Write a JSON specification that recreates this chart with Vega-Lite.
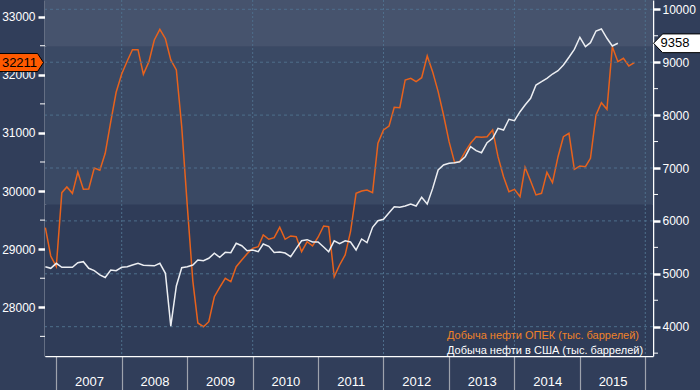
{
"$schema": "https://vega.github.io/schema/vega-lite/v6.json",
"width": 608, "height": 356,
"autosize": {"type": "none"},
"padding": {"left": 45, "top": 0, "right": 47, "bottom": 34},
"background": "#313e5a",
"config": {"view": {"stroke": null}, "font": "Liberation Sans"},
"datasets": {"oil": [
{"d":"2006-11","opec":29370,"us":5134},{"d":"2006-12","opec":28883,"us":5104},
{"d":"2007-01","opec":28699,"us":5198},{"d":"2007-02","opec":29972,"us":5123},{"d":"2007-03","opec":30070,"us":5123},{"d":"2007-04","opec":29961,"us":5123},{"d":"2007-05","opec":30328,"us":5210},{"d":"2007-06","opec":30030,"us":5229},{"d":"2007-07","opec":30035,"us":5104},{"d":"2007-08","opec":30397,"us":5059},{"d":"2007-09","opec":30357,"us":4979},{"d":"2007-10","opec":30650,"us":4930},{"d":"2007-11","opec":31193,"us":5072},{"d":"2007-12","opec":31699,"us":5059},
{"d":"2008-01","opec":32014,"us":5123},{"d":"2008-02","opec":32238,"us":5134},{"d":"2008-03","opec":32432,"us":5166},{"d":"2008-04","opec":32432,"us":5198},{"d":"2008-05","opec":32009,"us":5161},{"d":"2008-06","opec":32226,"us":5157},{"d":"2008-07","opec":32599,"us":5150},{"d":"2008-08","opec":32783,"us":5198},{"d":"2008-09","opec":32621,"us":5009},{"d":"2008-10","opec":32255,"us":4010},{"d":"2008-11","opec":32083,"us":4769},{"d":"2008-12","opec":31107,"us":5115},
{"d":"2009-01","opec":29750,"us":5134},{"d":"2009-02","opec":28450,"us":5166},{"d":"2009-03","opec":27730,"us":5261},{"d":"2009-04","opec":27666,"us":5248},{"d":"2009-05","opec":27752,"us":5293},{"d":"2009-06","opec":28182,"us":5388},{"d":"2009-07","opec":28344,"us":5312},{"d":"2009-08","opec":28499,"us":5406},{"d":"2009-09","opec":28440,"us":5399},{"d":"2009-10","opec":28699,"us":5577},{"d":"2009-11","opec":28814,"us":5531},{"d":"2009-12","opec":28920,"us":5437},
{"d":"2010-01","opec":29015,"us":5450},{"d":"2010-02","opec":29043,"us":5418},{"d":"2010-03","opec":29244,"us":5563},{"d":"2010-04","opec":29170,"us":5520},{"d":"2010-05","opec":29198,"us":5403},{"d":"2010-06","opec":29376,"us":5412},{"d":"2010-07","opec":29170,"us":5393},{"d":"2010-08","opec":29227,"us":5323},{"d":"2010-09","opec":29215,"us":5482},{"d":"2010-10","opec":28957,"us":5624},{"d":"2010-11","opec":29129,"us":5645},{"d":"2010-12","opec":29055,"us":5601},
{"d":"2011-01","opec":29205,"us":5600},{"d":"2011-02","opec":29399,"us":5506},{"d":"2011-03","opec":29387,"us":5418},{"d":"2011-04","opec":28527,"us":5624},{"d":"2011-05","opec":28728,"us":5569},{"d":"2011-06","opec":28900,"us":5624},{"d":"2011-07","opec":29300,"us":5601},{"d":"2011-08","opec":29961,"us":5450},{"d":"2011-09","opec":30001,"us":5658},{"d":"2011-10","opec":30018,"us":5588},{"d":"2011-11","opec":29972,"us":5879},{"d":"2011-12","opec":30822,"us":6004},
{"d":"2012-01","opec":31051,"us":6030},{"d":"2012-02","opec":31119,"us":6155},{"d":"2012-03","opec":31441,"us":6268},{"d":"2012-04","opec":31434,"us":6257},{"d":"2012-05","opec":31911,"us":6282},{"d":"2012-06","opec":31940,"us":6319},{"d":"2012-07","opec":31882,"us":6282},{"d":"2012-08","opec":31950,"us":6446},{"d":"2012-09","opec":32324,"us":6319},{"d":"2012-10","opec":32054,"us":6610},{"d":"2012-11","opec":31710,"us":6962},{"d":"2012-12","opec":31309,"us":7057},
{"d":"2013-01","opec":30850,"us":7089},{"d":"2013-02","opec":30488,"us":7100},{"d":"2013-03","opec":30505,"us":7119},{"d":"2013-04","opec":30680,"us":7214},{"d":"2013-05","opec":30822,"us":7403},{"d":"2013-06","opec":30935,"us":7327},{"d":"2013-07","opec":30925,"us":7289},{"d":"2013-08","opec":30935,"us":7478},{"d":"2013-09","opec":31051,"us":7561},{"d":"2013-10","opec":30591,"us":7750},{"d":"2013-11","opec":30247,"us":7718},{"d":"2013-12","opec":29989,"us":7921},
{"d":"2014-01","opec":30030,"us":7894},{"d":"2014-02","opec":29903,"us":8064},{"d":"2014-03","opec":30409,"us":8191},{"d":"2014-04","opec":30173,"us":8318},{"d":"2014-05","opec":29933,"us":8569},{"d":"2014-06","opec":29961,"us":8631},{"d":"2014-07","opec":30323,"us":8696},{"d":"2014-08","opec":30144,"us":8777},{"d":"2014-09","opec":30591,"us":8839},{"d":"2014-10","opec":30935,"us":8947},{"d":"2014-11","opec":30994,"us":9093},{"d":"2014-12","opec":30374,"us":9244},
{"d":"2015-01","opec":30431,"us":9471},{"d":"2015-02","opec":30419,"us":9293},{"d":"2015-03","opec":30564,"us":9369},{"d":"2015-04","opec":31309,"us":9590},{"d":"2015-05","opec":31520,"us":9628},{"d":"2015-06","opec":31407,"us":9452},{"d":"2015-07","opec":32484,"us":9306},{"d":"2015-08","opec":32226,"us":9358},{"d":"2015-09","opec":32284,"us":null},{"d":"2015-10","opec":32152,"us":null},{"d":"2015-11","opec":32211,"us":null}
],
"bands": [{"band": "top"}],
"grid_x": [{"d":"2008-01"},{"d":"2010-01"},{"d":"2012-01"},{"d":"2014-01"},{"d":"2016-01"}],
"grid_y": [{"us":4000},{"us":5000},{"us":6000},{"us":7000},{"us":8000},{"us":9000},{"us":10000}],
"minor_l": [{"opec":27500},{"opec":28500},{"opec":29500},{"opec":30500},{"opec":31500},{"opec":32500}],
"minor_r": [{"us":3500},{"us":4500},{"us":5500},{"us":6500},{"us":7500},{"us":8500},{"us":9500}]
},
"resolve": {"scale": {"y": "independent"}},
"layer": [
{
 "layer": [
  {"data": {"name": "bands"}, "mark": {"type": "rect", "fill": "#46536d"},
   "encoding": {"y": {"datum": 33287, "type": "quantitative"}, "y2": {"datum": 32483}}},
  {"data": {"name": "bands"}, "mark": {"type": "rect", "fill": "#3a4964"},
   "encoding": {"y": {"datum": 32483, "type": "quantitative"}, "y2": {"datum": 29765}}},
  {"data": {"name": "bands"}, "mark": {"type": "rect", "fill": "#2f3c58"},
   "encoding": {"y": {"datum": 29765, "type": "quantitative"}, "y2": {"datum": 27162}}},
  {"data": {"name": "grid_x"},
   "mark": {"type": "rule", "stroke": "#4e6f8c", "strokeWidth": 1, "strokeDash": [2, 2]},
   "encoding": {"x": {"field": "d", "type": "temporal"}}},
  {"data": {"name": "oil"}, "mark": {"type": "line", "strokeWidth": 1.5},
   "encoding": {
    "x": {"field": "d", "type": "temporal", "title": null,
      "scale": {"domain": [{"year": 2006, "month": 10, "date": 30}, {"year": 2016, "month": 2, "date": 13}]},
      "axis": {"tickCount": {"interval": "year", "step": 1}, "format": "%Y",
        "labelExpr": "year(datum.value) >= 2016 ? '' : datum.label",
        "labelOffset": 32.7, "labelPadding": -15, "labelColor": "#ffffff", "labelFontSize": 13, "labelFont": "Liberation Sans",
        "labelFlush": false, "labelOverlap": false, "labelBound": false, "labelAlign": "center", "labelBaseline": "top",
        "tickSize": 34, "tickColor": "#9ea3ad", "tickWidth": 1.2, "domainColor": "#ffffff", "domainWidth": 1.5, "grid": false}},
    "y": {"field": "opec", "type": "quantitative", "title": null,
      "scale": {"domain": [27162, 33287], "nice": false, "zero": false},
      "axis": {"orient": "left", "values": [28000, 29000, 30000, 31000, 32000, 33000],
        "format": "d", "labelOverlap": false, "labelFlush": false,
        "labelColor": "#ffffff", "labelFontSize": 12, "labelFont": "Liberation Sans", "labelPadding": 3,
        "tickColor": "#ffffff", "tickSize": 7, "tickWidth": 2.5,
        "domainColor": "#ffffff", "domainWidth": 1.5, "grid": false}},
    "color": {"datum": "Добыча нефти ОПЕК (тыс. баррелей)",
      "scale": {"domain": ["Добыча нефти ОПЕК (тыс. баррелей)", "Добыча нефти в США (тыс. баррелей)"], "range": ["#e8621c", "#eceef2"]},
      "legend": {"title": null, "orient": "none", "legendX": 391, "legendY": 330, "padding": 0,
        "symbolSize": 0, "symbolOpacity": 0, "symbolStrokeWidth": 0, "labelOffset": 0, "rowPadding": 3,
        "labelFontSize": 11, "labelFont": "Liberation Sans", "labelLimit": 400, "labelBaseline": "middle",
        "encode": {"labels": {"update": {"fill": [{"test": "datum.index === 0", "value": "#f08228"}, {"value": "#ffffff"}]}}}}}
   }},
  {"data": {"name": "minor_l"},
   "mark": {"type": "tick", "orient": "horizontal", "color": "#ffffff", "opacity": 1, "size": 5, "thickness": 1, "xOffset": -2.5},
   "encoding": {"x": {"datum": {"year": 2006, "month": 10, "date": 30}, "type": "temporal"},
     "y": {"field": "opec", "type": "quantitative"}}},
  {"data": {"name": "oil"}, "transform": [{"filter": "utcyear(datum.d) === 2015 && utcmonth(datum.d) === 10"}],
   "mark": {"type": "point", "filled": true, "fill": "#ff5a00", "stroke": "#000000", "strokeWidth": 1, "opacity": 1,
     "shape": "M-1,-0.41 L0.73,-0.41 L1,0 L0.73,0.41 L-1,0.41 Z", "size": 1936, "xOffset": -23.5},
   "encoding": {"x": {"datum": {"year": 2006, "month": 10, "date": 30}, "type": "temporal"},
     "y": {"field": "opec", "type": "quantitative"}}},
  {"data": {"name": "oil"}, "transform": [{"filter": "utcyear(datum.d) === 2015 && utcmonth(datum.d) === 10"}],
   "mark": {"type": "text", "fill": "#000000", "fontSize": 13, "font": "Liberation Sans", "align": "center", "baseline": "middle", "xOffset": -25.5},
   "encoding": {"x": {"datum": {"year": 2006, "month": 10, "date": 30}, "type": "temporal"},
     "y": {"field": "opec", "type": "quantitative"},
     "text": {"field": "opec", "type": "quantitative", "format": "d"}}}
 ]
},
{
 "layer": [
  {"data": {"name": "grid_y"},
   "mark": {"type": "rule", "stroke": "#4e6f8c", "strokeWidth": 1, "strokeDash": [3, 3]},
   "encoding": {"y": {"field": "us", "type": "quantitative"}}},
  {"data": {"name": "oil"}, "mark": {"type": "line", "strokeWidth": 1.5},
   "encoding": {
    "x": {"field": "d", "type": "temporal"},
    "y": {"field": "us", "type": "quantitative", "title": null,
      "scale": {"domain": [3446, 10176], "nice": false, "zero": false},
      "axis": {"orient": "right", "values": [4000, 5000, 6000, 7000, 8000, 9000, 10000],
        "format": "d", "labelOverlap": false, "labelFlush": false,
        "labelColor": "#ffffff", "labelFontSize": 12, "labelFont": "Liberation Sans", "labelPadding": 2,
        "tickColor": "#ffffff", "tickSize": 7, "tickWidth": 2.5,
        "domainColor": "#ffffff", "domainWidth": 1.5, "grid": false}},
    "color": {"datum": "Добыча нефти в США (тыс. баррелей)"}
   }},
  {"data": {"name": "minor_r"},
   "mark": {"type": "tick", "orient": "horizontal", "color": "#ffffff", "opacity": 1, "size": 5, "thickness": 1, "xOffset": 2.5},
   "encoding": {"x": {"datum": {"year": 2016, "month": 2, "date": 13}, "type": "temporal"},
     "y": {"field": "us", "type": "quantitative"}}},
  {"data": {"name": "oil"}, "transform": [{"filter": "utcyear(datum.d) === 2015 && utcmonth(datum.d) === 7"}],
   "mark": {"type": "point", "filled": true, "fill": "#ffffff", "stroke": "#000000", "strokeWidth": 1, "opacity": 1,
     "shape": "M-1,0 L-0.62,-0.39 L1,-0.39 L1,0.39 L-0.62,0.39 Z", "size": 2304, "xOffset": 24.5},
   "encoding": {"x": {"datum": {"year": 2016, "month": 2, "date": 13}, "type": "temporal"},
     "y": {"field": "us", "type": "quantitative"}}},
  {"data": {"name": "oil"}, "transform": [{"filter": "utcyear(datum.d) === 2015 && utcmonth(datum.d) === 7"}],
   "mark": {"type": "text", "fill": "#000000", "fontSize": 13, "font": "Liberation Sans", "align": "center", "baseline": "middle", "xOffset": 22},
   "encoding": {"x": {"datum": {"year": 2016, "month": 2, "date": 13}, "type": "temporal"},
     "y": {"field": "us", "type": "quantitative"},
     "text": {"field": "us", "type": "quantitative", "format": "d"}}}
 ]
}
]
}
